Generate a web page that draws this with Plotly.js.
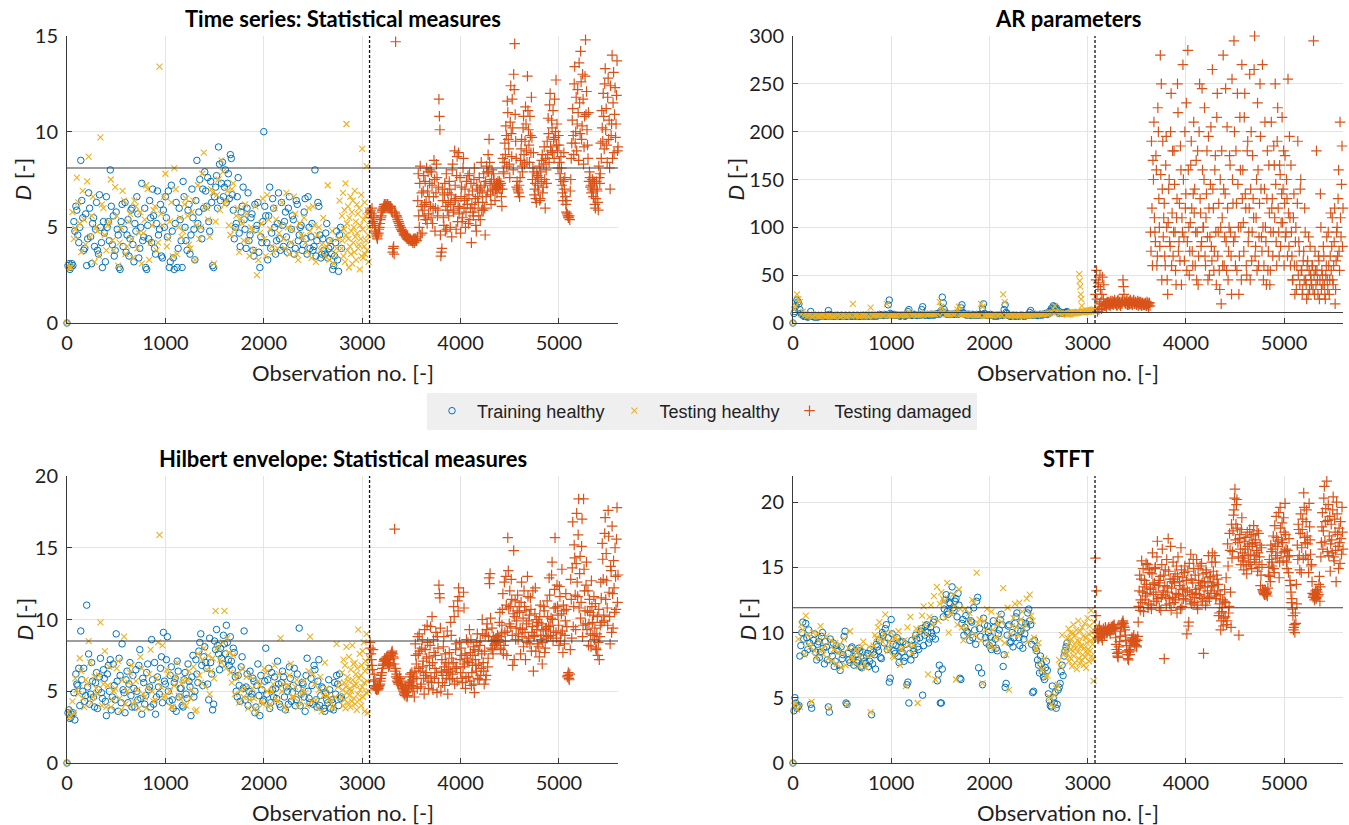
<!DOCTYPE html>
<html>
<head>
<meta charset="utf-8">
<script src="https://cdn.plot.ly/plotly-3.0.1.min.js"></script>
<style>html,body{margin:0;padding:0;background:#fff;}#chart{width:1349px;height:825px;}</style>
</head>
<body>
<div id="chart"></div>
<script>
// ---------------- DATA ----------------
const panelTitles = ["Time series: Statistical measures", "AR parameters", "Hilbert envelope: Statistical measures", "STFT"];
const seriesNames = ["Training healthy", "Testing healthy", "Testing damaged"];
const xTickVals = [0, 1000, 2000, 3000, 4000, 5000];
const yRanges = [[0, 15], [0, 300], [0, 20], [0, 22]];
const yDticks = [5, 50, 5, 5];
const thresholds = [8.1, 11, 8.5, 11.9];
const splitObs = 3075;

// observation numbers (shared by the four feature sets)
const xTrain = [0,20,40,60,80,100,120,140,160,180,200,220,240,260,280,300,320,340,360,380,400,420,440,460,480,500,520,540,560,580,600,620,640,660,680,700,720,740,760,780,800,820,840,860,880,900,920,940,960,980,1000,1020,1040,1060,1080,1100,1120,1140,1160,1180,1200,1220,1240,1260,1280,1300,1320,1340,1360,1380,1400,1420,1440,1460,1480,1500,1520,1540,1560,1580,1600,1620,1640,1660,1680,1700,1720,1740,1760,1780,1800,1820,1840,1860,1880,1900,1920,1940,1960,1980,2000,2020,2040,2060,2080,2100,2120,2140,2160,2180,2200,2220,2240,2260,2280,2300,2320,2340,2360,2380,2400,2420,2440,2460,2480,2500,2520,2540,2560,2580,2600,2620,2640,2660,2680,2700,2720,2740,2760,2780];
const xTrainB = [10,30,50,70,90,110,130,150,170,190,210,230,250,270,290,310,330,350,370,390,410,430,450,470,490,510,530,550,570,590,610,630,650,670,690,710,730,750,770,790,810,830,850,870,890,910,930,950,970,990,1010,1030,1050,1070,1090,1110,1130,1150,1170,1190,1210,1230,1250,1270,1290,1310,1330,1350,1370,1390,1410,1430,1450,1470,1490,1510,1530,1550,1570,1590,1610,1630,1650,1670,1690,1710,1730,1750,1770,1790,1810,1830,1850,1870,1890,1910,1930,1950,1970,1990,2010,2030,2050,2070,2090,2110,2130,2150,2170,2190,2210,2230,2250,2270,2290,2310,2330,2350,2370,2390,2410,2430,2450,2470,2490,2510,2530,2550,2570,2590,2610,2630,2650,2670,2690,2710,2730,2750,2770,2790];
const xTest = [0,10,40,70,100,130,160,190,220,250,280,310,340,370,400,430,460,490,520,550,580,610,640,670,700,730,760,790,820,850,880,910,940,970,1000,1030,1060,1090,1120,1150,1180,1210,1240,1270,1300,1330,1360,1390,1420,1450,1480,1510,1540,1570,1600,1630,1660,1690,1720,1750,1780,1810,1840,1870,1900,1930,1960,1990,2020,2050,2080,2110,2140,2170,2200,2230,2260,2290,2320,2350,2380,2410,2440,2470,2500,2530,2560,2590,2620,2650,2680,2710,2740,2770,
2790,2795,2800,2805,2810,2815,2820,2825,2830,2835,2840,2845,2850,2855,2860,2865,2870,2875,2880,2885,2890,2895,2900,2905,2910,2915,2920,2925,2930,2935,2940,2945,2950,2955,2960,2965,2970,2975,2980,2985,2990,2995,3000,3005,3010,3015,3020,3025,3030,3035,3040,3045,3050,3055,3060,3065,3070];
const xTestB = [25,55,85,115,145,175,205,235,265,295,325,355,385,415,445,475,505,535,565,595,625,655,685,715,745,775,805,835,865,895,925,955,985,1015,1045,1075,1105,1135,1165,1195,1225,1255,1285,1315,1345,1375,1405,1435,1465,1495,1525,1555,1585,1615,1645,1675,1705,1735,1765,1795,1825,1855,1885,1915,1945,1975,2005,2035,2065,2095,2125,2155,2185,2215,2245,2275,2305,2335,2365,2395,2425,2455,2485,2515,2545,2575,2605,2635,2665,2695,2725,2755];
const xDamaged = [3080,3090,3100,3110,3120,3130,3140,3150,3160,3170,
3180,3190,3200,3210,3220,3230,3240,3250,3260,3270,
3280,3290,3300,3310,3320,3330,3340,3350,3360,3370,
3380,3390,3400,3410,3420,3430,3440,3450,3460,3470,
3480,3490,3500,3510,3520,3530,3540,3550,3560,3570,
3580,3590,3600,3610,3620,3630,3640,3650,3660,3670,
3680,3690,3700,3710,3720,3730,3740,3750,3760,3770,
3780,3790,3800,3810,3820,3830,3840,3850,3860,3870,
3880,3890,3900,3910,3920,3930,3940,3950,3960,3970,
3980,3990,4000,4010,4020,4030,4040,4050,4060,4070,
4080,4090,4100,4110,4120,4130,4140,4150,4160,4170,
4180,4190,4200,4210,4220,4230,4240,4250,4260,4270,
4280,4290,4300,4310,4320,4330,4340,4350,4360,4370,
4380,4390,4400,4410,4420,4430,4440,4450,4460,4470,
4480,4490,4500,4510,4520,4530,4540,4550,4560,4570,
4580,4590,4600,4610,4620,4630,4640,4650,4660,4670,
4680,4690,4700,4710,4720,4730,4740,4750,4760,4770,
4780,4790,4800,4810,4820,4830,4840,4850,4860,4870,
4880,4890,4900,4910,4920,4930,4940,4950,4960,4970,
4980,4990,5000,5010,5020,5030,5040,5050,5060,5070,
5080,5090,5100,5110,5120,5130,5140,5150,5160,5170,
5180,5190,5200,5210,5220,5230,5240,5250,5260,5270,
5280,5290,5300,5310,5320,5330,5340,5350,5360,5370,
5380,5390,5400,5410,5420,5430,5440,5450,5460,5470,
5480,5490,5500,5510,5520,5530,5540,5550,5560,5570,
5580,5590,5600];
const xDamagedB = [3085,3095,3105,3115,3125,3135,3145,3155,3165,3175,
3185,3195,3205,3215,3225,3235,3245,3255,3265,3275,
3285,3295,3305,3315,3325,3335,3345,3355,3365,3375,
3385,3395,3405,3415,3425,3435,3445,3455,3465,3475,
3485,3495,3505,3515,3525,3535,3545,3555,3565,3575,
3585,3595,3605,3615,3625,3635,3645,3655,3665,3675,
3685,3695,3705,3715,3725,3735,3745,3755,3765,3775,
3785,3795,3805,3815,3825,3835,3845,3855,3865,3875,
3885,3895,3905,3915,3925,3935,3945,3955,3965,3975,
3985,3995,4005,4015,4025,4035,4045,4055,4065,4075,
4085,4095,4105,4115,4125,4135,4145,4155,4165,4175,
4185,4195,4205,4215,4225,4235,4245,4255,4265,4275,
4285,4295,4305,4315,4325,4335,4345,4355,4365,4375,
4385,4395,4405,4415,4425,4435,4445,4455,4465,4475,
4485,4495,4505,4515,4525,4535,4545,4555,4565,4575,
4585,4595,4605,4615,4625,4635,4645,4655,4665,4675,
4685,4695,4705,4715,4725,4735,4745,4755,4765,4775,
4785,4795,4805,4815,4825,4835,4845,4855,4865,4875,
4885,4895,4905,4915,4925,4935,4945,4955,4965,4975,
4985,4995,5005,5015,5025,5035,5045,5055,5065,5075,
5085,5095,5105,5115,5125,5135,5145,5155,5165,5175,
5185,5195,5205,5215,5225,5235,5245,5255,5265,5275,
5285,5295,5305,5315,5325,5335,5345,5355,5365,5375,
5385,5395,5405,5415,5425,5435,5445,5455,5465,5475,
5485,5495,5505,5515,5525,5535,5545,5555,5565,5575,
5585,5595];

// Panel 1: Time series statistical measures
const tsTrain = [0,3.1,2.9,3.0,4.8,5.9,4.2,8.5,5.5,3.9,
3.0,6.8,4.5,5.2,4.0,6.3,3.6,5.0,2.9,4.7,
6.6,5.3,8.0,4.1,3.5,5.8,4.6,2.8,6.2,4.9,
3.7,5.4,4.4,6.0,3.2,4.8,5.7,3.9,7.3,4.5,
2.9,5.1,6.4,4.2,5.6,3.6,6.9,4.9,3.5,5.9,
6.6,4.5,2.9,7.2,3.4,5.2,2.9,6.0,4.3,7.4,
5.0,3.8,6.2,4.6,5.5,3.3,8.5,5.8,4.9,7.0,
7.9,6.1,5.3,7.4,3.0,6.6,7.7,9.2,6.4,8.4,
7.1,6.3,7.8,8.8,6.7,4.4,5.2,7.6,4.0,6.1,
5.4,3.9,6.8,4.6,5.7,3.5,4.9,6.3,2.9,4.2,
10.0,5.6,3.3,7.1,4.7,6.0,3.6,5.2,4.4,6.3,
4.0,5.8,3.7,6.6,4.9,5.4,3.9,6.2,4.6,5.1,
4.1,6.5,3.6,5.0,4.5,3.8,8.0,4.3,6.1,3.4,
4.4,3.6,5.2,3.9,4.0,2.8,3.5,4.8,2.7,5.0];
const tsTrainB = [3.0,2.8,3.1,5.3,6.1,4.6,5.0,6.4,3.8,5.7,
4.4,6.0,3.1,5.5,4.9,3.8,6.7,4.2,5.3,3.2,
5.0,4.3,6.1,5.6,3.8,4.9,2.9,5.3,4.0,6.3,
4.6,3.5,5.9,4.1,5.2,6.6,3.4,5.0,4.3,6.0,
2.8,4.4,5.5,7.0,3.9,5.2,4.6,6.2,3.4,5.0,
5.5,6.9,3.2,4.8,2.8,6.3,3.9,5.4,2.9,6.6,
4.3,5.9,3.6,7.0,4.9,6.4,5.2,7.5,4.4,6.0,
6.9,7.6,4.8,6.3,2.9,7.1,6.0,8.3,7.3,6.6,
8.0,7.3,6.5,8.6,5.9,5.0,6.6,4.7,5.8,7.1,
4.9,6.0,4.3,5.5,3.8,6.2,5.1,3.7,4.5,5.3,
6.1,4.2,5.6,3.9,6.5,5.0,4.3,6.8,3.8,5.1,
5.3,4.5,6.0,4.1,5.6,3.6,6.4,4.3,5.0,3.8,
5.8,4.4,6.6,3.9,5.2,4.0,3.5,6.3,4.6,3.6,
3.8,4.7,3.4,4.3,3.6,3.0,4.2,3.3,4.6,3.9];
const tsTest = [0,3.0,2.9,4.4,7.6,5.2,6.9,4.1,8.7,5.6,3.2,
4.8,9.7,6.0,3.8,5.3,4.3,7.1,3.0,5.0,6.4,
4.0,5.7,3.4,6.1,4.7,3.1,5.4,7.0,4.2,5.9,
3.8,13.4,5.1,7.8,4.4,6.3,8.1,3.6,5.5,4.8,
6.5,4.1,5.8,3.3,7.2,5.0,8.9,6.0,4.5,6.8,
5.3,7.5,8.5,6.2,6.9,4.6,7.3,5.6,3.7,5.2,
6.2,4.3,5.0,3.8,2.5,4.7,6.5,3.5,5.4,4.0,
6.0,3.9,5.1,4.4,6.8,3.6,4.9,5.7,3.3,4.6,
5.5,3.7,4.8,6.1,3.2,5.0,4.1,3.5,7.2,4.3,
3.1,3.9,6.4,
3.9,5.6,4.3,6.8,3.5,4.9,5.9,3.2,7.3,4.6,
10.4,5.2,3.8,6.1,4.4,2.9,5.5,4.0,6.6,3.6,
4.8,5.8,3.1,6.4,4.2,5.0,3.7,6.9,4.5,5.3,
3.3,6.2,4.7,5.7,3.9,4.1,6.0,2.8,5.1,4.4,
6.7,3.5,9.1,4.9,3.4,5.4,4.0,6.3,3.6,5.6,
4.3,8.2,3.8,5.9,4.6,3.2,5.0];
const tsTestB = [2.9,5.8,4.9,6.3,3.7,5.4,7.4,4.5,6.6,5.0,
3.5,6.2,4.6,5.1,7.5,3.8,5.6,4.2,6.9,3.6,
5.3,4.4,6.4,3.9,5.8,4.7,7.2,3.3,5.1,6.1,
4.2,5.7,6.6,4.0,5.3,3.5,7.0,5.0,4.5,6.2,
5.6,3.9,6.4,5.1,4.4,7.8,6.1,5.4,7.0,3.1,
6.7,5.9,7.9,6.4,5.1,7.0,4.9,6.0,5.5,4.3,
5.7,3.5,4.8,6.1,3.3,5.2,4.4,6.7,4.9,3.7,
5.4,4.7,6.3,3.9,5.0,4.2,6.6,3.6,5.2,4.5,
4.2,6.0,3.4,5.1,4.6,3.8,5.5,4.0,3.3,4.8,
3.6,4.4];
const tsDamaged = [5.8,5.5,6.0,5.3,5.6,5.0,4.7,4.5,4.6,4.9,
5.2,5.5,5.8,5.9,6.1,6.0,6.2,6.1,6.2,6.1,
6.0,6.1,5.9,3.7,4.0,5.8,14.7,5.6,5.4,5.3,
5.1,5.0,4.9,4.8,4.7,4.6,4.6,4.5,4.5,4.4,
4.4,4.35,4.3,4.3,4.4,4.2,4.4,4.3,4.5,7.8,
5.0,8.2,6.1,4.7,6.9,5.6,7.4,6.3,5.2,7.9,
6.6,8.0,5.5,7.2,6.0,8.5,4.8,6.8,7.6,5.9,
11.7,10.1,3.5,3.9,6.4,5.1,7.3,6.1,4.9,6.8,
5.6,7.0,6.2,4.5,8.3,5.8,9.0,6.5,7.7,5.3,
8.9,6.0,4.7,7.1,5.5,8.6,6.4,5.0,7.4,6.2,
5.2,7.8,6.0,4.2,6.9,5.6,8.1,6.5,4.8,7.0,
6.3,7.6,5.4,8.4,6.8,5.9,7.2,4.6,6.6,7.9,
8.8,9.6,7.3,6.2,8.0,6.9,7.5,6.4,7.1,6.8,
7.4,7.2,7.0,7.3,6.1,8.6,7.8,9.4,10.3,8.2,
11.0,9.1,7.6,12.4,8.7,10.2,13.0,14.6,9.5,7.1,
7.0,6.8,6.6,8.5,9.6,7.9,10.8,8.3,11.3,9.0,
12.9,10.1,8.4,9.8,11.8,7.5,8.9,6.7,7.3,6.3,
7.7,6.9,8.2,6.5,7.4,8.8,7.1,9.2,6.0,8.0,
9.5,10.7,8.4,12.0,9.0,10.2,11.1,8.6,9.7,12.7,
10.4,8.1,9.3,7.8,8.7,7.2,6.4,8.9,7.6,6.2,
6.4,5.6,5.5,5.4,7.5,9.4,11.2,8.8,13.4,10.0,
9.0,12.2,8.5,11.5,14.2,9.6,13.0,8.3,10.8,14.8,
12.1,9.3,11.0,7.9,7.1,6.8,7.5,6.6,7.3,6.0,
7.4,6.9,5.9,7.6,7.8,8.6,10.2,12.0,9.1,13.3,
11.2,8.4,12.8,10.6,7.0,9.8,14.0,11.5,8.9,12.3,
10.4,13.7,9.2];
const tsDamagedB = [5.9,5.7,5.2,5.5,5.1,4.8,4.6,4.4,4.7,5.0,
5.4,5.6,5.9,6.0,6.2,6.1,6.1,6.2,6.0,6.1,
6.1,6.0,5.8,3.9,3.6,5.7,5.6,5.5,5.3,5.2,
5.0,4.9,4.8,4.8,4.6,4.6,4.5,4.4,4.4,4.3,
4.4,4.3,4.3,4.2,4.3,4.4,4.3,4.3,6.4,5.6,
7.3,4.6,6.8,5.9,7.7,6.2,5.4,8.1,6.9,5.7,
7.3,6.1,7.9,5.2,6.6,7.5,6.0,8.3,5.6,7.1,
10.8,4.6,3.7,7.0,5.5,6.7,4.8,7.8,5.9,6.3,
7.4,5.0,6.7,8.0,5.9,6.4,7.2,4.9,8.7,6.1,
5.7,7.6,6.6,5.3,8.1,6.0,7.0,5.8,6.5,7.7,
6.7,5.4,7.3,6.2,5.8,7.5,6.0,5.1,7.2,6.6,
5.6,6.9,7.1,5.9,6.3,7.8,6.0,7.4,8.2,6.9,
7.9,8.4,6.7,7.5,7.0,7.8,7.2,7.0,7.3,7.2,
7.1,7.4,7.2,6.6,7.0,7.9,8.4,8.8,9.8,11.6,
9.6,8.3,10.5,9.9,11.7,8.0,12.2,10.9,8.6,7.4,
6.9,7.2,7.6,9.1,8.2,10.2,8.8,9.5,10.4,8.4,
11.1,9.3,10.8,8.9,9.7,8.1,7.9,7.0,6.5,7.8,
7.2,7.6,6.4,7.9,8.5,6.8,8.3,7.5,8.6,7.3,
8.8,9.9,11.4,9.2,10.6,8.9,9.6,11.7,10.0,9.3,
9.0,9.8,8.4,7.5,8.1,6.8,7.4,7.0,6.6,5.8,
5.7,5.5,5.6,6.9,8.6,10.6,9.8,12.5,9.4,11.8,
10.4,11.0,13.6,9.9,12.6,10.3,11.7,9.2,12.9,10.9,
10.1,8.6,7.4,7.6,7.2,7.0,6.9,7.4,6.2,6.5,
7.0,6.3,8.2,7.3,9.4,11.1,9.5,10.8,12.5,10.1,
9.3,11.8,9.6,8.1,12.4,10.4,8.6,13.1,10.9,9.7,
11.9,9.0];

// Panel 2: AR parameters
const arTrain = [0,12,24,20,10,8,7,7,8,12,
7,6,7,8,7,7,7,8,13,7,
8,7,7,8,7,8,7,8,7,8,
7,8,7,8,7,7,8,8,7,8,
8,7,8,8,9,8,8,8,8,24,
9,8,8,8,8,8,8,7,8,14,
8,8,9,8,9,8,17,9,8,8,
9,9,9,9,10,11,27,14,10,9,
9,9,9,9,9,10,19,10,9,9,
9,8,8,8,8,9,8,20,9,8,
8,8,8,8,7,8,8,8,19,10,
8,7,8,7,8,7,8,8,7,8,
8,13,8,8,8,8,9,9,9,9,
10,11,14,17,16,13,11,10,10,11];
const arTrainB = [10,18,22,14,9,7,8,6,7,8,
7,8,6,7,8,7,8,7,9,8,
7,8,8,7,8,7,8,7,8,7,
8,7,8,7,8,8,7,8,8,7,
8,8,7,8,8,8,9,8,19,10,
8,9,8,8,7,8,8,8,12,9,
8,9,8,8,8,14,9,8,9,8,
9,8,9,10,9,13,21,11,9,9,
9,9,10,9,10,16,11,9,8,9,
8,9,8,9,8,9,15,10,8,8,
9,8,7,8,8,8,8,14,11,8,
7,8,8,8,7,8,8,7,8,8,
11,9,8,9,8,9,8,9,10,9,
12,15,18,15,12,10,11,10,11,12];
const arTest = [0,14,30,22,12,9,8,7,8,7,7,
8,7,8,7,7,8,7,8,7,8,
20,8,7,8,8,7,16,8,8,8,
8,9,8,8,8,8,8,9,8,12,
8,9,8,9,8,9,9,9,9,10,
17,12,9,9,9,10,17,9,9,9,
8,9,8,8,17,8,8,8,8,8,
9,30,8,8,8,7,8,8,8,8,
8,8,9,9,9,9,9,10,15,12,
10,9,10,
9,9,10,9,10,10,9,10,10,11,
10,10,11,10,11,10,11,11,10,11,
11,11,12,11,11,51,44,38,30,25,
18,11,12,11,12,12,11,12,12,13,
12,12,13,12,13,12,13,13,12,13,
13,14,13,13,14,13,14];
const arTestB = [18,25,9,8,7,8,7,8,7,8,
7,8,8,7,8,7,8,7,8,7,
8,8,7,8,8,7,8,8,8,9,
8,20,8,8,8,9,8,8,8,9,
9,8,9,9,10,9,9,9,10,22,
11,9,9,10,9,14,9,9,9,8,
9,8,8,20,8,8,8,8,9,8,
8,22,8,8,8,8,8,7,8,8,
8,9,8,9,9,10,10,11,18,11,
10,10];
const arDamaged = [30,55,12,42,20,35,15,48,25,18,
20,17,22,19,21,18,20,23,19,21,
20,22,18,24,21,19,22,20,45,30,
22,20,24,21,19,23,20,22,21,24,
20,22,19,23,21,20,22,18,21,19,
19,21,18,20,17,21,95,190,60,150,
110,85,160,70,200,100,280,250,140,90,
125,60,195,45,105,150,80,240,115,70,
180,95,40,130,220,85,65,160,110,270,
90,200,135,55,285,100,75,165,120,60,
210,140,95,45,180,70,250,115,85,160,
100,225,60,135,90,195,50,145,80,265,
120,75,175,40,240,95,55,150,20,110,
280,60,135,85,205,45,100,165,70,255,
125,295,90,180,55,145,30,215,100,270,
160,75,240,120,50,190,95,260,140,65,
175,110,300,80,150,230,60,125,195,90,
270,45,140,100,40,180,75,115,55,210,
130,95,165,250,85,190,120,70,155,105,
215,140,60,175,95,130,255,80,110,165,
70,45,135,30,100,60,190,85,40,150,
55,35,75,120,45,25,65,90,35,50,
40,60,295,30,55,180,45,70,25,135,
35,50,80,40,25,60,45,95,30,70,
55,110,40,85,20,65,100,130,75,210,
90,185,120];
const arDamagedB = [45,25,38,14,50,22,30,17,40,20,
18,21,20,22,19,23,21,20,22,24,
21,19,23,20,22,18,21,24,38,22,
21,23,19,22,20,24,21,19,23,20,
22,20,21,18,22,19,20,21,19,20,
20,18,22,19,21,18,75,120,170,210,
95,175,60,225,130,80,155,45,190,110,
70,165,100,30,140,85,200,60,180,95,
145,55,110,250,75,125,185,40,95,150,
65,120,230,85,160,50,105,190,75,135,
115,60,170,95,40,200,130,80,245,100,
150,70,110,180,45,120,90,205,65,140,
55,160,95,215,70,125,35,100,180,60,
140,90,245,55,120,75,175,95,30,150,
85,200,60,125,240,100,70,160,45,130,
105,215,135,60,180,85,120,45,200,95,
130,265,70,110,55,160,90,250,140,75,
100,60,210,85,130,55,165,40,95,120,
70,185,110,145,60,225,95,165,80,135,
105,180,125,90,150,70,115,195,60,95,
45,110,60,85,35,125,50,75,140,55,
30,65,45,95,40,60,30,55,80,45,
60,35,50,75,40,55,30,65,45,100,
55,40,70,30,50,90,35,60,45,115,
80,45,60,120,35,95,70,160,55,110,
145,80];

// Panel 3: Hilbert envelope statistical measures
const hilTrain = [0,3.7,3.2,3.5,3.0,5.5,6.6,9.2,5.0,4.3,
11.0,7.6,4.8,5.7,3.9,6.3,5.1,7.3,4.5,5.9,
3.3,6.8,7.2,4.6,5.4,9.0,3.6,6.1,8.3,4.9,
5.8,4.2,7.0,3.9,5.2,6.5,4.4,7.9,3.4,5.6,
4.7,6.9,5.3,8.6,4.1,3.4,6.0,4.8,7.4,9.1,
5.5,8.8,4.3,6.7,3.8,5.9,7.1,4.6,5.2,3.9,
6.3,4.5,5.7,3.3,7.5,5.0,6.2,7.8,9.0,5.4,
8.1,6.6,4.4,7.0,3.7,8.5,9.3,7.6,8.0,6.9,
8.3,9.6,7.2,8.8,6.5,7.7,5.0,6.1,4.3,7.4,
9.2,5.3,4.0,6.4,4.8,5.7,3.9,6.9,3.3,5.1,
4.4,8.0,5.8,3.8,6.3,4.6,5.2,7.1,4.1,5.6,
6.0,3.7,5.0,6.7,4.3,5.4,4.0,6.2,9.4,4.8,
5.5,3.6,7.3,4.5,5.9,4.1,6.5,3.9,7.2,4.7,
5.2,3.6,4.4,5.8,3.8,4.2,5.6,6.1,4.0,4.5];
const hilTrainB = [3.5,3.1,3.4,4.9,6.2,5.4,4.0,5.8,6.6,4.7,
5.3,4.1,7.0,4.6,5.6,3.8,6.0,4.9,6.5,4.3,
6.2,5.0,3.7,6.9,4.4,5.7,7.3,4.2,5.1,3.5,
6.4,5.5,4.7,6.1,3.9,5.0,6.8,4.5,5.9,4.1,
6.3,5.1,3.9,5.8,7.0,4.6,5.3,6.6,4.2,5.7,
7.2,5.0,6.1,4.4,5.6,3.6,6.4,5.2,4.0,5.8,
4.8,6.9,5.3,6.0,4.6,7.2,5.6,8.4,6.8,7.4,
7.0,5.5,8.7,6.2,4.1,7.9,8.2,6.5,7.3,8.9,
7.6,8.4,6.8,7.1,8.0,6.0,4.6,5.4,6.7,5.2,
4.4,6.2,5.0,4.6,5.9,3.5,5.4,4.7,6.1,4.3,
5.7,4.8,6.6,4.2,5.1,6.0,4.5,5.5,3.9,6.4,
4.6,5.3,4.1,5.9,4.9,6.6,4.4,5.2,4.0,5.6,
4.6,6.1,5.0,4.2,5.4,6.8,4.4,5.7,4.0,5.3,
3.8,4.9,4.2,5.1,4.4,3.7,4.8,5.5,6.2,4.6];
const hilTest = [0,3.6,3.3,3.5,5.1,7.3,4.5,5.8,8.5,4.2,6.0,
4.8,9.8,5.5,3.9,6.7,4.4,5.2,7.1,3.7,8.8,
5.0,6.3,4.1,5.7,3.8,6.6,4.6,5.3,7.9,4.3,
5.9,15.9,8.2,4.7,6.2,3.9,5.4,7.0,4.5,5.8,
4.0,6.4,5.1,3.6,7.6,5.6,8.0,6.5,4.8,7.3,
10.6,8.1,7.0,10.6,8.7,6.3,7.5,5.9,4.2,6.6,
5.2,3.8,6.0,4.5,3.5,5.4,4.1,6.3,3.9,5.0,
6.8,4.3,8.7,5.5,3.7,6.1,4.6,5.3,3.9,4.8,
5.7,4.0,8.8,6.2,4.4,5.1,3.6,7.0,4.7,4.2,
3.8,8.3,5.6,
4.6,6.3,5.1,4.0,7.2,5.6,4.4,6.8,3.8,5.3,
8.1,4.9,6.0,4.2,5.7,7.4,4.7,5.2,3.9,6.5,
5.0,4.3,8.2,5.8,6.9,4.5,5.4,7.0,4.1,6.2,
5.5,3.7,6.6,4.8,9.3,5.9,4.4,7.6,5.1,6.1,
4.0,6.8,5.3,7.8,4.6,8.4,5.6,3.6,6.4,7.1,
4.9,9.0,5.7,3.5,6.7,5.0,7.3];
const hilTestB = [3.2,4.3,5.9,4.8,6.4,3.9,5.5,7.0,4.6,5.2,
6.1,4.0,7.8,5.4,3.9,5.0,6.6,4.5,5.8,4.1,
5.6,6.8,4.3,5.1,7.4,4.8,3.8,6.2,5.0,4.4,
8.4,5.3,4.6,6.5,5.0,3.9,6.0,4.7,5.5,4.1,
5.8,4.5,6.7,3.7,6.1,7.2,5.3,7.5,6.4,5.9,
8.0,7.2,8.4,6.6,7.7,5.6,4.8,6.2,5.1,4.6,
6.0,4.4,5.2,3.8,5.7,4.3,6.6,5.0,4.1,5.5,
4.5,6.2,5.0,3.9,5.4,6.9,4.6,5.8,4.2,5.1,
4.9,6.4,4.3,5.5,3.8,6.0,4.7,5.2,4.4,3.9,
4.6,5.3];
const hilDamaged = [8.4,7.6,6.8,7.9,6.2,5.8,5.3,5.2,5.1,5.3,
5.5,5.9,6.3,6.8,7.1,7.3,7.2,7.4,7.0,6.7,
6.9,7.5,7.7,7.6,7.3,16.3,6.6,6.2,5.9,5.5,
6.0,5.7,5.4,5.2,5.0,4.9,5.3,5.1,4.7,5.0,
5.6,6.2,5.4,5.8,6.0,4.6,8.3,6.9,5.2,7.6,
9.0,6.4,5.5,8.6,7.1,4.8,7.9,6.3,9.6,5.7,
7.4,8.2,6.0,10.2,5.1,7.7,6.6,9.1,4.9,8.0,
12.4,11.5,5.0,7.2,6.1,8.8,5.4,7.0,6.5,4.8,
6.9,5.8,9.8,7.3,6.2,10.9,5.5,7.9,6.7,11.3,
12.2,8.4,6.3,7.5,5.6,11.9,6.9,5.2,8.6,7.1,
6.0,9.3,7.7,5.4,6.8,8.1,4.9,7.2,6.4,9.0,
7.8,5.8,8.5,6.6,10.0,7.0,5.5,8.9,6.1,9.7,
7.3,12.9,13.2,8.0,9.4,7.6,8.5,8.3,8.7,8.6,
8.4,8.8,10.5,7.9,9.6,11.8,8.2,9.1,13.0,7.5,
15.7,10.8,12.0,9.5,11.4,6.8,14.8,10.2,8.6,9.9,
11.7,9.0,10.5,7.6,12.6,9.3,8.1,10.9,7.2,9.7,
13.0,8.7,10.3,11.5,7.8,9.5,6.4,8.9,12.2,10.0,
8.3,9.8,7.4,11.0,8.6,6.9,9.2,10.6,8.0,9.4,
11.3,8.8,12.9,9.6,10.1,14.0,8.5,10.8,15.7,9.1,
12.4,10.3,8.2,11.6,9.0,13.5,7.7,10.6,8.9,11.8,
9.5,6.1,5.9,6.2,12.8,8.7,16.8,10.9,14.3,9.3,
17.4,11.6,18.4,13.2,10.1,15.1,8.8,18.4,12.0,9.7,
14.0,10.6,8.2,11.4,9.0,12.7,9.8,10.3,8.6,11.1,
7.9,10.2,8.4,7.2,9.6,11.5,15.3,12.8,9.9,17.1,
14.6,10.8,17.6,11.9,8.3,13.4,16.5,9.4,12.2,15.0,
10.7,17.8,13.1];
const hilDamagedB = [8.0,7.2,6.5,5.7,5.4,5.2,5.1,5.3,5.2,5.4,
5.7,6.1,6.6,6.9,7.2,7.1,7.3,7.2,6.9,6.8,
7.2,7.6,7.8,7.4,6.9,6.4,6.0,5.7,5.6,5.8,
5.9,5.5,5.3,5.1,4.8,4.7,4.9,4.6,5.2,5.5,
6.0,5.7,6.3,5.0,5.3,6.4,7.5,5.9,8.8,6.6,
7.8,5.3,8.0,6.7,5.9,9.3,6.1,7.3,8.4,5.2,
6.8,9.5,5.6,7.0,8.6,5.9,7.5,6.3,8.8,5.6,
11.8,9.4,6.4,5.6,8.1,6.7,7.6,5.9,9.2,6.3,
7.7,6.4,8.9,5.9,7.0,10.2,6.6,8.3,5.7,10.6,
11.6,7.2,8.0,5.9,6.7,10.8,7.6,6.0,7.3,8.4,
7.0,5.7,8.6,6.3,7.5,5.5,7.9,6.8,8.4,5.9,
6.9,8.2,6.1,7.6,9.0,6.4,7.8,5.8,9.3,6.7,
8.8,12.5,10.1,8.5,7.9,8.8,8.2,8.6,8.4,8.9,
8.6,9.8,8.0,9.0,10.7,7.6,12.6,8.5,11.0,9.2,
13.4,9.7,10.9,12.8,8.9,10.4,7.2,11.3,9.4,10.6,
8.6,10.9,9.4,11.2,8.8,10.1,12.0,9.1,10.6,8.4,
11.6,9.9,8.3,10.7,9.1,12.0,8.8,10.4,7.8,9.3,
9.6,8.1,10.2,8.9,9.7,8.4,10.9,7.7,9.3,8.7,
10.2,9.5,11.7,8.9,13.1,10.0,9.2,12.1,10.8,8.7,
10.9,9.6,12.3,8.5,10.4,9.2,11.0,8.3,9.9,10.7,
6.0,6.3,5.8,7.9,11.4,13.6,9.5,15.2,11.7,13.9,
12.6,15.9,10.8,14.4,11.2,17.0,9.6,13.5,10.6,12.4,
9.3,12.0,9.7,10.5,8.1,10.9,8.9,11.6,9.4,8.0,
9.0,7.5,10.7,8.8,12.6,9.8,14.2,10.3,16.0,11.4,
12.7,9.6,15.8,10.2,13.7,9.1,11.8,14.1,10.5,13.0,
15.6,11.2];

// Panel 4: STFT
const stftTrain = [0,5.0,4.2,4.4,9.0,10.8,8.4,9.6,10.2,4.5,
8.8,9.9,7.9,9.3,8.5,10.0,7.6,8.9,4.3,9.5,
8.2,7.4,9.0,8.6,7.1,8.0,9.7,4.6,8.4,7.7,
8.9,7.5,8.3,7.9,8.6,7.3,8.1,7.6,8.4,7.8,
3.7,8.5,7.2,8.9,9.4,8.0,9.8,10.3,8.7,6.2,
11.0,9.1,8.4,9.6,7.7,8.8,9.3,8.1,6.0,4.6,
7.9,9.0,8.3,9.5,8.7,10.1,5.2,9.8,10.6,9.2,
10.4,9.7,11.0,10.2,6.8,4.6,7.2,11.8,12.9,11.4,
12.2,13.5,11.7,12.6,13.0,6.5,10.7,9.8,11.3,10.0,
9.4,10.8,11.9,9.1,12.7,10.3,6.9,11.1,9.6,10.5,
9.0,8.7,10.9,9.5,8.6,10.2,11.4,7.4,5.8,9.8,
10.6,9.3,8.9,10.7,11.5,9.6,10.1,8.8,9.9,10.4,
11.8,10.6,5.4,9.4,8.6,7.5,8.2,7.0,6.4,7.8,
5.3,4.4,5.9,4.6,4.2,5.6,6.1,7.5,8.2,8.9];
const stftTrainB = [4.0,4.6,4.3,8.2,10.0,9.5,10.7,8.7,9.2,4.2,
9.4,8.5,9.1,8.1,9.7,8.8,9.3,7.9,3.9,8.6,
9.2,7.8,8.7,7.5,8.9,8.3,10.1,4.5,7.9,8.8,
8.0,8.6,7.7,8.8,7.4,8.5,7.8,8.2,7.4,8.7,
7.6,8.3,9.1,8.6,8.1,10.0,9.2,10.6,9.6,6.5,
9.9,8.6,9.0,8.2,9.3,8.5,7.8,9.1,6.2,8.4,
9.4,8.6,9.8,8.9,9.6,10.3,9.0,10.5,10.0,9.5,
10.0,10.8,9.5,6.3,7.5,4.6,11.2,12.5,11.6,12.3,
12.8,11.9,12.4,11.2,12.1,6.4,11.0,10.4,10.1,11.7,
10.9,9.6,10.2,12.4,7.3,9.7,6.0,10.6,9.2,10.0,
9.7,9.2,10.4,8.8,9.9,11.0,10.6,8.3,6.1,10.5,
9.2,10.0,9.6,11.2,10.2,9.0,10.8,9.5,10.7,11.5,
10.9,9.1,5.5,8.8,7.9,6.9,7.6,6.6,7.3,7.1,
4.8,4.3,5.0,5.4,4.5,5.8,7.0,6.7,8.6,9.2];
const stftTest = [0,4.4,4.1,4.3,10.2,11.3,9.1,4.7,8.6,9.9,10.5,
8.3,9.7,4.2,7.8,9.2,8.5,7.3,9.5,4.5,10.1,
8.0,8.7,7.4,8.9,7.6,8.2,3.9,9.0,9.6,10.8,
9.3,11.4,8.6,10.0,8.1,9.4,7.5,8.8,5.9,9.1,
8.4,9.7,4.6,10.3,12.0,9.9,11.2,10.6,6.4,10.9,
13.1,12.4,13.8,11.5,12.9,6.4,13.3,10.4,11.8,9.7,
10.9,12.3,14.6,11.0,6.1,10.2,9.3,11.6,8.8,10.7,
9.5,13.4,8.3,5.6,10.5,12.2,9.8,11.0,10.3,12.6,
12.9,10.9,8.7,9.2,7.1,8.0,6.7,5.0,4.3,5.7,
7.9,9.8,8.6,
8.4,9.6,8.9,10.3,7.8,9.2,8.1,10.0,8.7,9.5,
7.4,9.9,8.6,10.6,8.2,9.1,7.7,9.8,8.8,10.2,
7.2,9.4,8.5,10.9,8.0,9.3,7.6,10.1,8.9,9.0,
7.9,10.4,8.3,9.7,7.5,8.8,10.7,8.1,9.6,7.3,
9.2,8.4,11.1,8.7,9.9,7.8,10.5,8.6,9.4,11.7,
8.2,10.0,9.1,7.9,6.3,10.8,9.5];
const stftTestB = [4.6,9.5,10.6,8.3,9.8,8.9,10.0,8.1,9.4,8.7,
9.0,8.0,9.4,8.7,7.6,9.1,8.4,7.5,8.8,8.1,
7.7,8.5,8.1,9.3,7.3,8.9,8.3,9.8,10.4,9.5,
9.9,8.8,9.3,8.2,9.6,10.1,8.7,9.4,10.4,11.2,
9.0,10.3,10.0,11.3,10.6,6.8,12.1,12.8,13.5,12.2,
12.6,11.1,10.0,11.4,12.0,10.6,11.8,9.4,10.3,11.5,
12.5,9.8,10.7,9.4,10.9,11.8,8.9,10.2,9.6,11.3,
10.8,9.2,11.9,9.9,11.1,10.4,12.3,11.6,10.6,9.3,
11.3,9.6,8.8,7.7,7.2,6.6,5.1,4.5,5.2,6.0,
7.4,8.3];
const stftDamaged = [15.7,13.2,10.2,9.6,10.5,9.9,10.1,9.4,10.3,9.8,
10.4,10.1,10.0,10.3,10.2,9.9,10.4,10.5,10.2,10.6,
10.3,9.1,8.4,8.1,8.9,9.7,10.4,10.7,10.9,10.5,
10.2,9.4,8.6,8.0,8.5,8.3,9.2,9.6,9.3,9.8,
9.1,9.5,8.9,9.7,12.0,14.4,12.5,15.5,13.1,11.6,
14.0,12.8,13.7,15.2,12.2,14.6,13.3,11.8,16.1,12.9,
13.8,15.0,12.4,17.0,13.6,11.9,14.3,12.7,16.4,13.2,
8.0,14.8,12.1,13.5,17.2,12.6,14.1,11.7,13.9,15.4,
12.3,14.5,13.0,11.5,15.8,12.8,13.6,16.5,12.0,14.2,
13.4,15.1,12.5,9.9,14.7,10.8,13.1,16.0,12.2,13.8,
14.9,12.7,13.3,15.6,11.8,14.0,12.9,13.6,15.3,12.4,
8.4,13.9,12.1,14.6,13.2,15.9,12.6,14.3,13.5,16.1,
14.7,13.0,15.4,12.8,14.1,13.7,11.5,12.9,10.9,11.9,
10.5,12.4,11.2,14.2,10.9,15.1,12.0,16.3,10.4,15.7,
17.8,19.4,21.0,18.3,20.2,16.9,9.8,17.5,15.2,18.8,
16.1,14.8,15.9,17.3,14.5,16.6,15.4,17.9,16.0,14.9,
16.8,18.2,15.6,17.1,16.3,14.7,17.6,15.8,13.6,16.5,
13.3,13.1,12.9,13.2,13.0,12.8,14.4,15.6,13.9,16.2,
15.1,17.4,14.6,16.8,18.9,15.7,17.0,14.2,19.6,16.1,
18.4,15.5,17.7,19.9,16.4,14.9,15.8,17.2,14.0,13.1,
12.6,11.3,10.4,10.0,10.7,12.2,15.6,17.9,14.8,19.1,
16.5,18.7,20.7,17.3,15.9,19.4,16.8,14.6,18.1,16.0,
15.2,13.0,12.8,12.5,13.2,12.7,13.1,12.9,14.3,13.5,
16.9,19.2,17.8,21.2,18.5,22.1,16.2,19.8,17.4,14.7,
18.3,16.1,20.4,15.5,17.7,13.9,19.1,16.6,18.0,15.3,
17.2,19.6,16.4];
const stftDamagedB = [11.3,10.0,9.5,10.3,9.7,10.2,9.6,10.0,9.9,10.1,
10.3,10.0,10.2,10.4,10.1,10.3,10.2,10.4,10.5,10.3,
9.6,8.7,8.2,8.5,9.3,10.1,10.6,10.8,10.7,10.4,
9.8,9.0,8.3,7.9,8.7,8.6,9.4,9.5,9.6,9.2,
9.3,9.0,9.4,10.8,13.2,11.7,14.1,12.3,14.9,13.5,
12.5,15.3,13.0,11.9,14.8,13.4,12.1,14.5,13.7,12.4,
14.9,13.1,15.8,12.6,14.0,13.8,11.7,15.2,12.9,14.4,
13.6,12.8,15.6,13.1,14.7,12.2,16.6,13.4,12.7,14.1,
13.8,12.5,15.1,14.3,12.9,13.9,11.8,14.8,13.3,12.6,
14.6,12.8,14.0,13.2,10.5,15.3,12.4,14.1,12.9,15.6,
12.3,14.4,13.0,12.1,14.9,13.4,15.1,12.6,13.8,14.5,
12.8,13.5,14.8,12.4,13.9,12.7,14.2,13.0,15.4,13.6,
13.8,15.9,12.6,14.4,13.2,11.3,12.2,10.2,11.6,12.5,
11.1,13.3,12.3,10.6,16.8,11.5,17.6,13.1,18.3,16.2,
19.0,20.3,17.1,19.8,18.0,15.8,17.2,16.4,17.9,15.7,
15.5,17.0,16.4,15.1,17.7,15.9,16.8,15.2,17.4,16.6,
17.5,15.9,16.9,15.4,17.8,16.1,15.0,16.7,14.4,15.2,
13.2,13.0,13.3,12.9,13.1,13.4,15.0,14.3,16.7,15.4,
16.4,14.9,18.2,15.9,17.3,16.6,19.2,15.4,18.0,17.1,
16.9,18.8,16.2,17.5,15.4,16.3,14.6,15.9,13.6,12.3,
11.8,10.2,10.6,11.5,13.7,16.7,18.3,15.9,17.6,14.6,
17.9,15.7,19.6,16.9,18.5,17.4,15.6,19.9,17.1,15.1,
13.9,12.7,12.9,13.0,12.6,13.3,12.8,13.7,12.4,15.8,
18.1,16.4,20.3,17.0,19.5,21.6,18.6,15.9,18.9,16.8,
17.1,19.4,15.8,18.7,16.3,20.0,17.5,14.9,16.9,18.5,
16.0,17.7];

// ---------------- LAYOUT ----------------
const W = 1349, H = 825;
const px = v => v / W;
const py = v => 1 - v / H;

// plot boxes in pixels [left, right, top, bottom]
const boxes = [[67, 618, 36, 323], [793, 1343, 36, 323], [67, 618, 476, 763], [793, 1343, 476, 763]];
const yTitleX = [22, 735, 24, 747];

const panelData = [
  [tsTrain, tsTrainB, tsTest, tsTestB, tsDamaged, tsDamagedB],
  [arTrain, arTrainB, arTest, arTestB, arDamaged, arDamagedB],
  [hilTrain, hilTrainB, hilTest, hilTestB, hilDamaged, hilDamagedB],
  [stftTrain, stftTrainB, stftTest, stftTestB, stftDamaged, stftDamagedB]
];

const COL_BLUE = '#0072BD', COL_YEL = '#EDB120', COL_RED = '#D95319';
const FONT = 'Lato, "Open Sans", sans-serif';
const TXT = '#1f1f1f';

const traces = [];
const layout = {
  width: W, height: H,
  margin: {l: 0, r: 0, t: 0, b: 0},
  paper_bgcolor: '#ffffff', plot_bgcolor: '#ffffff',
  showlegend: true,
  legend: {
    orientation: 'h', x: px(702), y: py(411), xanchor: 'center', yanchor: 'middle',
    bgcolor: '#efefef', borderwidth: 0,
    font: {family: '"Liberation Sans", Arial, sans-serif', size: 18, color: '#222'},
    itemwidth: 40, tracegroupgap: 0
  },
  shapes: [], annotations: []
};

panelData.forEach((ser, i) => {
  const n = i + 1;
  const xa = n === 1 ? 'x' : 'x' + n;
  const ya = n === 1 ? 'y' : 'y' + n;
  const b = boxes[i];
  const common = {
    showline: true, linecolor: '#3a3a3a', linewidth: 1,
    ticks: 'inside', ticklen: 5, tickcolor: '#3a3a3a', tickwidth: 1,
    showgrid: true, gridcolor: '#e4e4e4', gridwidth: 1,
    zeroline: false, fixedrange: true,
    tickfont: {family: FONT, size: 20, color: TXT}
  };
  layout['xaxis' + (n === 1 ? '' : n)] = Object.assign({}, common, {
    domain: [px(b[0]), px(b[1])], range: [0, 5600], tickvals: xTickVals,
    anchor: ya, ticklabelstandoff: 2
  });
  layout['yaxis' + (n === 1 ? '' : n)] = Object.assign({}, common, {
    domain: [py(b[3]), py(b[2])], range: yRanges[i], dtick: yDticks[i], tick0: 0,
    anchor: xa, ticklabelstandoff: 4
  });
  traces.push({
    type: 'scatter', mode: 'markers', x: xTrain.concat(xTrainB), y: ser[0].concat(ser[1]), xaxis: xa, yaxis: ya,
    name: seriesNames[0], showlegend: i === 0, cliponaxis: false,
    marker: {symbol: 'circle-open', size: 6.5, color: COL_BLUE, line: {width: 1, color: COL_BLUE}}
  });
  traces.push({
    type: 'scatter', mode: 'markers', x: xTest.concat(xTestB), y: ser[2].concat(ser[3]), xaxis: xa, yaxis: ya,
    name: seriesNames[1], showlegend: i === 0, cliponaxis: false,
    marker: {symbol: 'x-thin-open', size: 6, color: COL_YEL, line: {width: 1.1, color: COL_YEL}}
  });
  traces.push({
    type: 'scatter', mode: 'markers', x: xDamaged.concat(xDamagedB), y: ser[4].concat(ser[5]), xaxis: xa, yaxis: ya,
    name: seriesNames[2], showlegend: i === 0, cliponaxis: false,
    marker: {symbol: 'cross-thin-open', size: 7.5, color: COL_RED, line: {width: 1.2, color: COL_RED}}
  });
  // threshold line
  layout.shapes.push({type: 'line', xref: xa, yref: ya, x0: 0, x1: 5600, y0: thresholds[i], y1: thresholds[i],
    line: {color: '#3c3c3c', width: 1.2}});
  // split between healthy and damaged
  layout.shapes.push({type: 'line', xref: xa, yref: ya + ' domain', x0: splitObs, x1: splitObs, y0: 0, y1: 1,
    line: {color: '#111', width: 1.3, dash: '3px,2px'}});
  // panel title
  const cx = (b[0] + b[1]) / 2;
  layout.annotations.push({xref: 'paper', yref: 'paper', x: px(cx), y: py(b[2] - 18), xanchor: 'center', yanchor: 'middle',
    text: '<b>' + panelTitles[i] + '</b>', showarrow: false, font: {family: FONT, size: 22, color: '#000'}});
  // x title
  layout.annotations.push({xref: 'paper', yref: 'paper', x: px(cx), y: py(b[3] + 49), xanchor: 'center', yanchor: 'middle',
    text: 'Observation no. [-]', showarrow: false, font: {family: FONT, size: 22, color: TXT}});
  // y title
  layout.annotations.push({xref: 'paper', yref: 'paper', x: px(yTitleX[i]), y: py((b[2] + b[3]) / 2), xanchor: 'center', yanchor: 'middle',
    text: '<i>D</i> [-]', textangle: -90, showarrow: false, font: {family: FONT, size: 22, color: TXT}});
});

Plotly.newPlot('chart', traces, layout, {displayModeBar: false, staticPlot: true});
</script>
</body>
</html>
